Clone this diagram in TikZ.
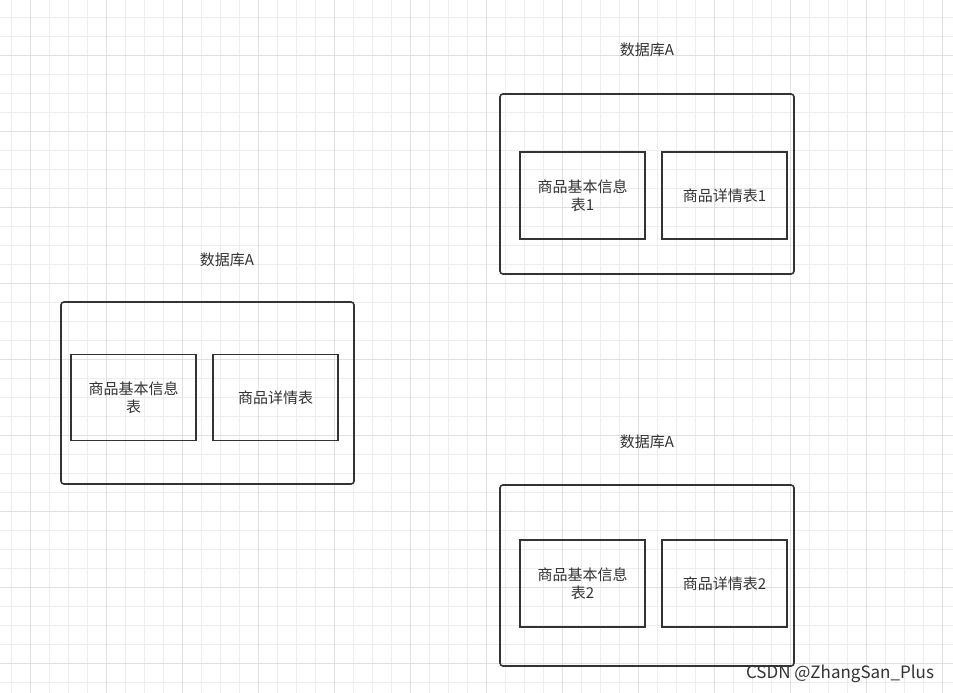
\documentclass[tikz,border=0pt]{standalone}
\usepackage{fontspec}
\setmainfont{Noto Sans CJK SC}
\begin{document}
\begin{tikzpicture}[x=1pt,y=-1pt,
  outer/.style={draw=black!80,line width=1.6pt,rounded corners=3pt},
  inner/.style={draw=black!80,line width=1.6pt,align=center,font=\fontsize{15}{18}\selectfont,text=black!80},
  lbl/.style={font=\fontsize{15}{18}\selectfont,text=black!80}]
\useasboundingbox (0,0) rectangle (953,693);
\fill[white] (0,0) rectangle (953,693);
\foreach \i in {0,...,50} {\draw[black!7,line width=0.8pt] (11.5+19*\i,0) -- (11.5+19*\i,693);}
\foreach \i in {0,...,37} {\draw[black!7,line width=0.8pt] (0,17.5+19*\i) -- (953,17.5+19*\i);}
\foreach \i in {0,...,12} {\draw[black!12,line width=0.8pt] (30.5+76*\i,0) -- (30.5+76*\i,693);}
\foreach \i in {0,...,9} {\draw[black!12,line width=0.8pt] (0,55.5+76*\i) -- (953,55.5+76*\i);}
% left
\draw[outer] (61,302) rectangle (354,484);
\node[lbl] (la) at (227,260) {数据库A};
\node[inner,minimum width=125pt,minimum height=86pt] (l1) at (133.5,397.5) {商品基本信息\\表};
\node[inner,minimum width=125pt,minimum height=86pt] (l2) at (275.5,397.5) {商品详情表};
% top right
\draw[outer] (500,94) rectangle (794,274);
\node[lbl] (ta) at (647,50) {数据库A};
\node[inner,minimum width=125pt,minimum height=87pt] (t1) at (582.5,195.5) {商品基本信息\\表1};
\node[inner,minimum width=125pt,minimum height=87pt] (t2) at (724.5,195.5) {商品详情表1};
% bottom right
\draw[outer] (500,485) rectangle (794,666);
\node[lbl] (ba) at (647,442) {数据库A};
\node[inner,minimum width=125pt,minimum height=87pt] (b1) at (582.5,583.5) {商品基本信息\\表2};
\node[inner,minimum width=125pt,minimum height=87pt] (b2) at (724.5,583.5) {商品详情表2};
\node[font=\fontsize{17}{20}\selectfont,text=black!80] (wm) at (840,674) {CSDN @ZhangSan\_Plus};
\end{tikzpicture}
\end{document}
